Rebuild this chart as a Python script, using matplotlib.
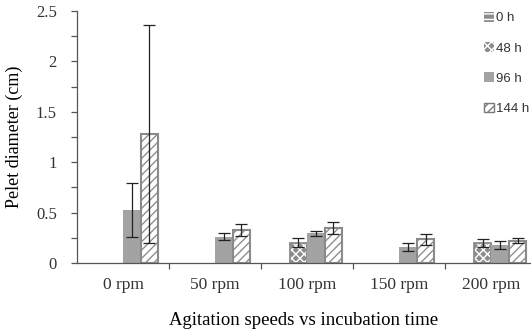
import matplotlib.pyplot as plt
import numpy as np
from matplotlib.patches import Patch

categories = ["0 rpm", "50 rpm", "100 rpm", "150 rpm", "200 rpm"]
series = ["0 h", "48 h", "96 h", "144 h"]

h0 = [0.0, 0.0, 0.0, 0.0, 0.0]
h48 = [0.0, 0.0, 0.20, 0.0, 0.20]
h96 = [0.525, 0.26, 0.295, 0.155, 0.18]
h144 = [1.28, 0.33, 0.345, 0.235, 0.22]

e0 = [0.0, 0.0, 0.0, 0.0, 0.0]
e48 = [0.0, 0.0, 0.045, 0.0, 0.04]
e96 = [0.27, 0.035, 0.025, 0.04, 0.04]
e144 = [1.08, 0.06, 0.06, 0.055, 0.025]

plt.rcParams.update({
    "font.family": "serif",
    "font.serif": ["Liberation Serif", "DejaVu Serif"],
    "text.color": "#333333",
    "axes.edgecolor": "#555555",
    "xtick.color": "#555555",
    "ytick.color": "#555555",
    "xtick.labelcolor": "#333333",
    "ytick.labelcolor": "#333333",
    "hatch.linewidth": 1.0,
})

fig = plt.figure(figsize=(5.31, 3.33), dpi=100)
ax = fig.add_axes([77 / 531, 70 / 333, 454 / 531, 252 / 333])

x = np.arange(len(categories))
w = 0.19
gray = "#a3a3a3"
edge = "#8a8a8a"

vals = [h0, h48, h96, h144]
errs = [e0, e48, e96, e144]
offsets = [-1.5, -0.5, 0.5, 1.5]


def nz(k):
    v = np.array(vals[k])
    m = v > 0
    return x[m] + offsets[k] * w, v[m], np.array(errs[k])[m]


# 0 h: gray with white horizontal line pattern
px, pv, pe = nz(0)
ax.bar(px, pv, w, color=gray, edgecolor="white", hatch="--", linewidth=0)
# 48 h: gray with white cross pattern
px, pv, pe = nz(1)
ax.bar(px, pv, w, color="#8c8c8c", edgecolor="white", hatch="xxxx", linewidth=0)
ax.bar(px, pv, w, fill=False, edgecolor=edge, linewidth=1.3)
# 96 h: plain gray
px, pv, pe = nz(2)
ax.bar(px, pv, w, color=gray, linewidth=0)
# 144 h: white with diagonal hatch
px, pv, pe = nz(3)
ax.bar(px, pv, w, color="white", edgecolor="#8f8f8f", hatch="////", linewidth=0)
ax.bar(px, pv, w, fill=False, edgecolor=edge, linewidth=1.5)

for k in range(4):
    px, pv, pe = nz(k)
    if len(px):
        ax.errorbar(px, pv, yerr=pe, fmt="none", ecolor="#222222",
                    elinewidth=0.9, capsize=4, capthick=0.9)

ax.set_xlim(-0.5, 4.43)
ax.set_ylim(0, 2.5)
ax.set_yticks(np.arange(0, 2.51, 0.5))
ax.set_yticklabels(["0", "0.5", "1", "1.5", "2", "2.5"])
ax.set_yticks(np.arange(0, 2.51, 0.25), minor=True)
ax.set_xticks(x)
ax.set_xticklabels(categories)
ax.set_xticks(np.arange(0.5, 4.5, 1.0), minor=True)
ax.tick_params(axis="x", which="major", length=0, labelsize=12.5, pad=10)
ax.tick_params(axis="x", which="minor", length=4.5, width=0.9)
ax.tick_params(axis="y", which="both", length=4.5, width=0.9, labelsize=12, pad=10)
for s in ["top", "right"]:
    ax.spines[s].set_visible(False)
ax.spines["left"].set_linewidth(0.9)
ax.spines["bottom"].set_linewidth(0.9)

ax.set_ylabel("Pelet diameter (cm)", fontsize=13)
ax.yaxis.set_label_coords(-54 / 454, 0.5)
ax.set_xlabel("Agitation speeds vs incubation time", fontsize=13.5)
ax.xaxis.set_label_coords(0.5, -49 / 252)

handles = [
    Patch(facecolor="#8c8c8c", edgecolor="white", hatch="---", linewidth=0),
    Patch(facecolor="#8c8c8c", edgecolor="white", hatch="xxxx", linewidth=0),
    Patch(facecolor=gray, linewidth=0),
    Patch(facecolor="white", edgecolor="#7a7a7a", hatch="////", linewidth=1.0),
]
fig.legend(handles, series, loc="upper left", bbox_to_anchor=(472 / 531, 1.0),
           frameon=False, prop={"family": "Liberation Sans", "size": 9.5},
           handlelength=0.75, handleheight=0.75, handletextpad=0.2,
           labelspacing=1.35, borderaxespad=0.5)

fig.savefig("out.png", dpi=100)
